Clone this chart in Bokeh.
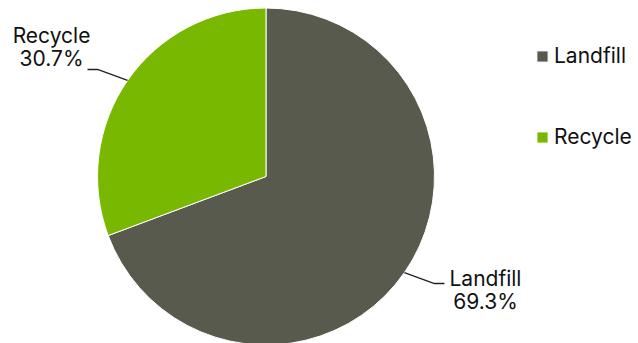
import math
from bokeh.plotting import figure
from bokeh.models import Range1d, Legend, LegendItem
from bokeh.core.properties import value
from bokeh.embed import file_html
from bokeh.resources import INLINE

# ---- data ----
categories = ["Landfill", "Recycle"]
shares = [69.3, 30.7]
colors = ["#585A4E", "#79B800"]

W, H = 638, 343
p = figure(width=W, height=H, output_backend="svg", toolbar_location=None,
           x_range=Range1d(0, W), y_range=Range1d(0, H), min_border=0)
p.axis.visible = False
p.grid.visible = False
p.outline_line_color = None
p.background_fill_color = "white"

cx, cy, r = 265.5, 167.0, 168.5
total = sum(shares)
starts, ends, mids = [], [], []
a = math.pi / 2
for v in shares:
    sweep = v / total * 2 * math.pi
    starts.append(a)
    ends.append(a - sweep)
    mids.append(a - sweep / 2)
    a -= sweep

renderers = []
for i in range(len(categories)):
    rr = p.wedge(x=cx, y=cy, radius=r, start_angle=starts[i], end_angle=ends[i],
                 direction="clock", fill_color=colors[i], line_color="white",
                 line_width=1)
    renderers.append(rr)

# leader lines + labels
for i, cat in enumerate(categories):
    m = mids[i]
    sx, sy = cx + r * math.cos(m), cy + r * math.sin(m)
    side = 1 if math.cos(m) >= 0 else -1
    ex, ey = sx + 30 * side, sy + (11 if math.sin(m) > 0 else -11)
    fx = ex + 10 * side
    p.line([sx, ex, fx], [sy, ey, ey], line_color="#222222", line_width=1.3)
    pct = f"{shares[i]:.1f}%"
    if side < 0:
        tx = fx - 36
        y1, y2 = ey + 34, ey + 11
    else:
        tx = fx + 41
        y1, y2 = ey + 5, ey - 18
    p.text(x=[tx, tx], y=[y1, y2], text=[cat, pct], text_align="center",
           text_baseline="alphabetic", text_font=value("Inter"),
           text_font_size="21px", text_color="#111111")

legend = Legend(items=[LegendItem(label=categories[i], renderers=[renderers[i]])
                       for i in range(len(categories))],
                location=(535, 194), orientation="vertical",
                glyph_width=14, glyph_height=14, label_standoff=5,
                label_text_font="Inter", label_text_font_size="21px",
                label_text_color="#111111", spacing=56, padding=0, margin=0,
                border_line_color=None, background_fill_alpha=0)
p.add_layout(legend, "center")

open("out.html", "w").write(file_html(p, INLINE))
